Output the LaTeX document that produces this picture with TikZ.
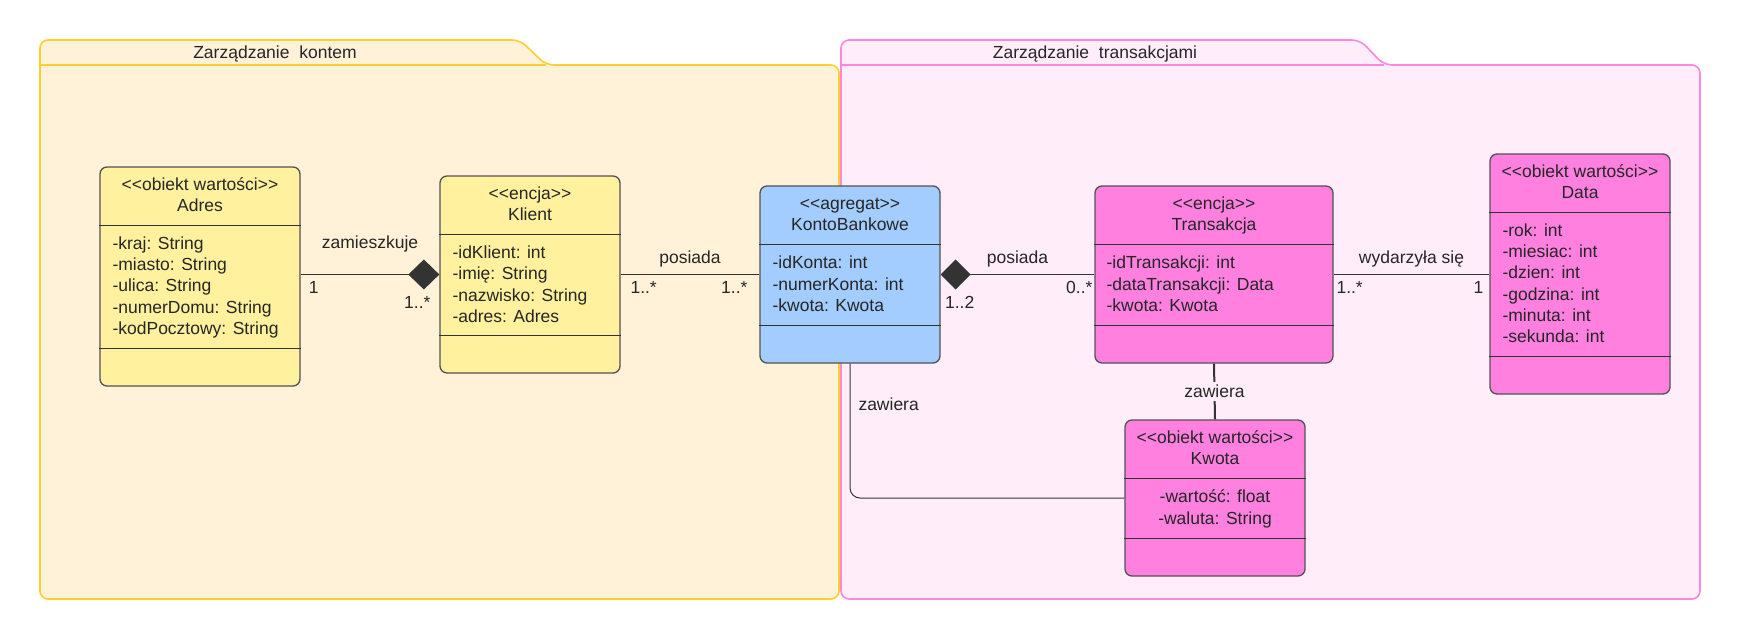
\documentclass[tikz,border=0pt]{standalone}
\usepackage{fontspec}
\setmainfont{Liberation Sans}
\usetikzlibrary{arrows.meta}
\definecolor{pakietZolty}{HTML}{FFF2D9}
\definecolor{ramkaZolta}{HTML}{FFD02B}
\definecolor{pakietRozowy}{HTML}{FFEEF9}
\definecolor{ramkaRozowa}{HTML}{FF86E0}
\definecolor{klasaZolta}{HTML}{FFF19D}
\definecolor{klasaNiebieska}{HTML}{A3CCFF}
\definecolor{klasaRozowa}{HTML}{FF80DF}
\definecolor{linia}{HTML}{333333}
\definecolor{napis}{HTML}{262626}
\tikzset{x=1pt,y=-1pt,
  pakiet/.style={line width=1.6pt,rounded corners=8pt},
  klasa/.style={draw=linia!85,line width=1.3pt,rounded corners=7pt,inner sep=0pt},
  przegroda/.style={draw=linia,line width=1.3pt},
  tekst/.style={font=\fontsize{17.5}{21.3}\selectfont,text=napis,inner sep=0pt},
  etykieta/.style={tekst,anchor=base},
  polaczenie/.style={draw=linia,line width=1.3pt}}
% anchor=base of a multi-line node sits on its last line
\newcommand{\klasa}[6]{%
  \node[klasa,fill=#2,minimum width=#4,minimum height=#5] (#1) at #3 {};
  \draw[przegroda] ([yshift=-59pt]#1.north west) -- ([yshift=-59pt]#1.north east)
    ([yshift=38pt]#1.south west) -- ([yshift=38pt]#1.south east);
  \node[tekst,anchor=base,align=center] (#1-nagl) at ([yshift=-45.3pt]#1.north) {#6};}

\begin{document}
\begin{tikzpicture}
  \path[use as bounding box,fill=white] (0,0) rectangle (1740,640);
  % pakiety
  \filldraw[pakiet,fill=pakietRozowy,draw=ramkaRozowa] (841,599) -- (841,40) -- (1360,40) -- (1384,65) -- (1700,65) -- (1700,599) -- cycle;
  \draw[line width=1.6pt,draw=ramkaRozowa] (841,65) -- (1384,65);
  \filldraw[pakiet,fill=pakietZolty,draw=ramkaZolta] (40,599) -- (40,40) -- (520,40) -- (546,65) -- (839,65) -- (839,599) -- cycle;
  \draw[line width=1.6pt,draw=ramkaZolta] (40,65) -- (546,65);
  \node[tekst,anchor=base] (tytul-konto) at (275,58) {Zarządzanie\ \ kontem};
  \node[tekst,anchor=base] (tytul-transakcje) at (1095,58) {Zarządzanie\ \ transakcjami};
  % klasy
  \klasa{adres}{klasaZolta}{(200,276.5)}{200pt}{219pt}{<{}<obiekt wartości>{}>\\Adres}
  \node[tekst,anchor=base west,align=left] (adres-atr) at ([xshift=13pt,yshift=-168.2pt]adres.north west)
    {-kraj: String\\-miasto: String\\-ulica: String\\-numerDomu: String\\-kodPocztowy: String};
  \klasa{klient}{klasaZolta}{(530,274.5)}{180pt}{197pt}{<{}<encja>{}>\\Klient}
  \node[tekst,anchor=base west,align=left] (klient-atr) at ([xshift=13pt,yshift=-147.2pt]klient.north west)
    {-idKlient: int\\-imię: String\\-nazwisko: String\\-adres: Adres};
  \klasa{konto}{klasaNiebieska}{(850,274.5)}{180pt}{177pt}{<{}<agregat>{}>\\KontoBankowe}
  \node[tekst,anchor=base west,align=left] (konto-atr) at ([xshift=13pt,yshift=-126.1pt]konto.north west)
    {-idKonta: int\\-numerKonta: int\\-kwota: Kwota};
  \klasa{transakcja}{klasaRozowa}{(1214,274.5)}{238pt}{177pt}{<{}<encja>{}>\\Transakcja}
  \node[tekst,anchor=base west,align=left] (transakcja-atr) at ([xshift=12pt,yshift=-126.1pt]transakcja.north west)
    {-idTransakcji: int\\-dataTransakcji: Data\\-kwota: Kwota};
  \klasa{data}{klasaRozowa}{(1580,274)}{180pt}{240pt}{<{}<obiekt wartości>{}>\\Data}
  \node[tekst,anchor=base west,align=left] (data-atr) at ([xshift=13pt,yshift=-189.5pt]data.north west)
    {-rok: int\\-miesiac: int\\-dzien: int\\-godzina: int\\-minuta: int\\-sekunda: int};
  \klasa{kwota}{klasaRozowa}{(1215,498)}{180pt}{156pt}{<{}<obiekt wartości>{}>\\Kwota}
  \node[tekst,anchor=base,align=center] (kwota-atr) at ([yshift=-104.8pt]kwota.north)
    {-wartość: float\\-waluta: String};
  % powiazania
  \draw[polaczenie,-{Diamond[length=31pt,width=30pt]}] (adres.east |- klient.west) -- (klient.west)
    node[etykieta,midway,yshift=26pt] (l-zamieszkuje) {zamieszkuje}
    node[etykieta,at start,xshift=13pt,yshift=-19pt] (k-adres) {1}
    node[etykieta,at end,xshift=-22pt,yshift=-34pt] (k-klient) {1..*};
  \draw[polaczenie] (klient.east) -- (konto.west)
    node[etykieta,midway,yshift=11.5pt] (l-posiada1) {posiada}
    node[etykieta,at start,xshift=23pt,yshift=-19pt] (k-klient2) {1..*}
    node[etykieta,at end,xshift=-25pt,yshift=-19pt] (k-konto) {1..*};
  \draw[polaczenie,{Diamond[length=30pt,width=30pt]}-] (konto.east) -- (transakcja.west)
    node[etykieta,midway,yshift=11.5pt] (l-posiada2) {posiada}
    node[etykieta,at start,xshift=19pt,yshift=-34pt] (k-konto2) {1..2}
    node[etykieta,at end,xshift=-15pt,yshift=-19pt] (k-transakcja) {0..*};
  \draw[polaczenie] (transakcja.east) -- (transakcja.east -| data.west)
    node[etykieta,midway,yshift=11.5pt] (l-wydarzyla) {wydarzyła się}
    node[etykieta,at start,xshift=16pt,yshift=-19pt] (k-transakcja2) {1..*}
    node[etykieta,at end,xshift=-11pt,yshift=-19pt] (k-data) {1};
  \draw[polaczenie,line width=2pt] (transakcja.south) -- (kwota.north)
    node[tekst,midway,fill=pakietRozowy,inner ysep=3pt] (l-zawiera1) {zawiera};
  \draw[polaczenie,line width=1pt,rounded corners=10pt] (konto.south) |- (kwota.west)
    node[tekst,pos=0.15,anchor=west,xshift=8pt] (l-zawiera2) {zawiera};
\end{tikzpicture}
\end{document}
